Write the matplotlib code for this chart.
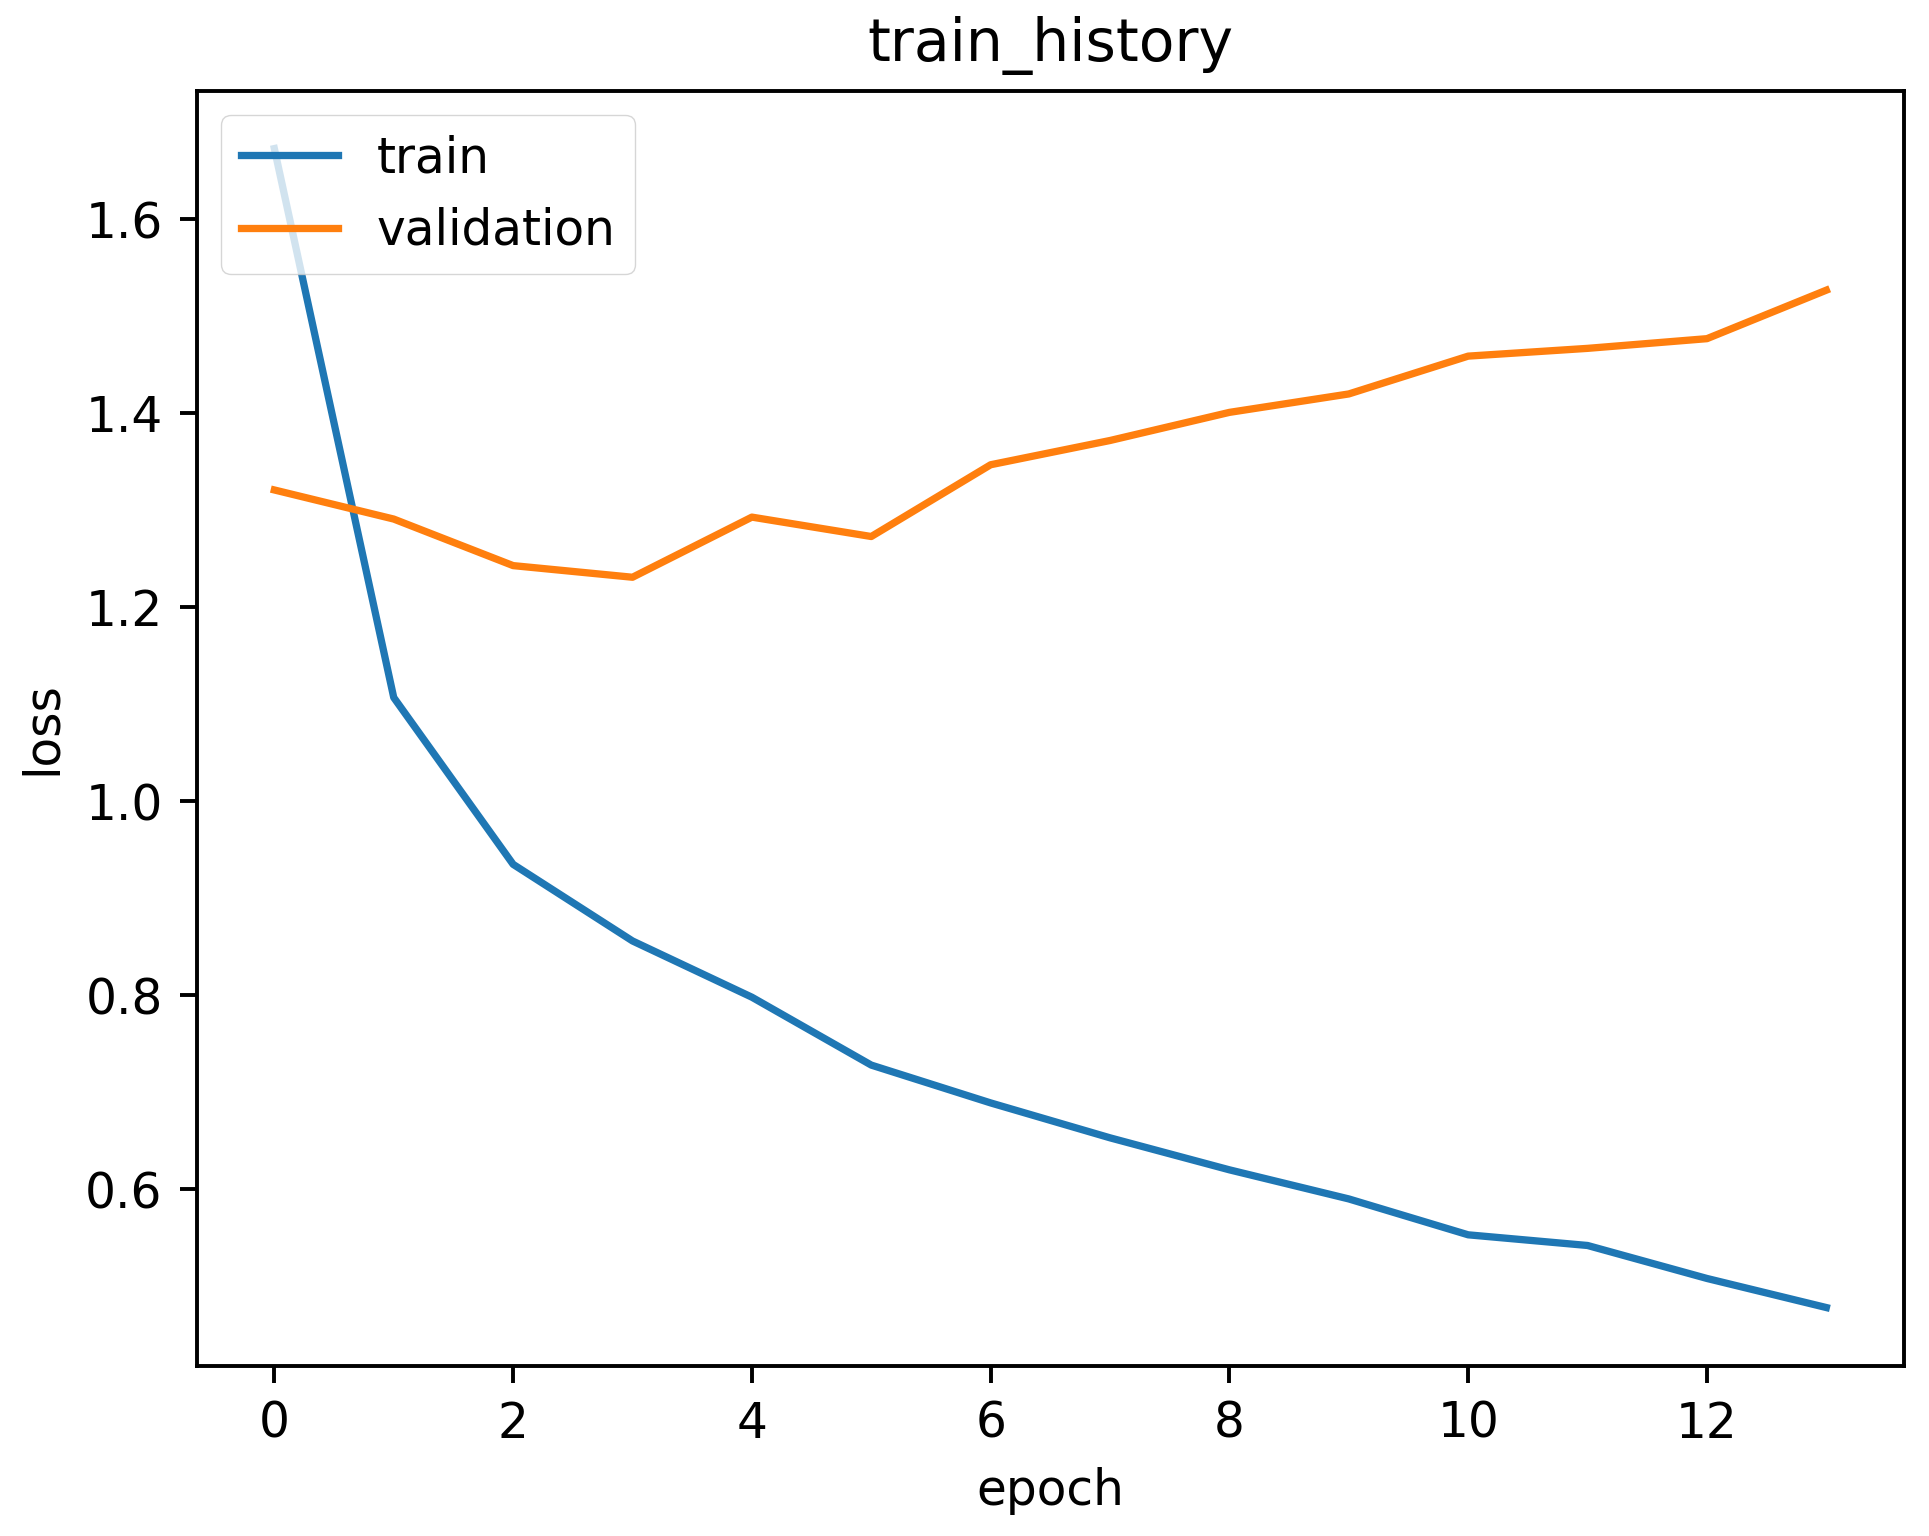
import matplotlib
matplotlib.use("Agg")
import matplotlib.pyplot as plt

epochs = list(range(14))
train_loss = [1.673, 1.107, 0.935, 0.856, 0.798, 0.728, 0.689, 0.653, 0.620, 0.590, 0.553, 0.542, 0.508, 0.478]
val_loss = [1.321, 1.291, 1.243, 1.231, 1.293, 1.273, 1.347, 1.372, 1.401, 1.420, 1.459, 1.467, 1.477, 1.527]

s = 3.5
plt.rcParams.update({
    "font.size": 10 * s,
    "axes.linewidth": 0.8 * s,
    "xtick.major.width": 0.8 * s,
    "ytick.major.width": 0.8 * s,
    "xtick.major.size": 3.5 * s,
    "ytick.major.size": 3.5 * s,
    "xtick.major.pad": 3.5 * s,
    "ytick.major.pad": 3.5 * s,
    "lines.linewidth": 1.5 * s,
})

fig = plt.figure(figsize=(19.29, 15.36), dpi=100)
fig.subplots_adjust(left=0.102, right=0.987, top=0.941, bottom=0.111)
ax = fig.add_subplot(111)
ax.plot(epochs, train_loss, label="train")
ax.plot(epochs, val_loss, label="validation")
ax.set_title("train_history", fontsize=12 * s, pad=6 * s)
ax.set_xlabel("epoch", labelpad=4 * s)
ax.set_ylabel("loss", labelpad=4 * s)
ax.legend(loc="upper left", borderaxespad=0.5, handlelength=2.0)
fig.savefig("out.png", dpi=100)
